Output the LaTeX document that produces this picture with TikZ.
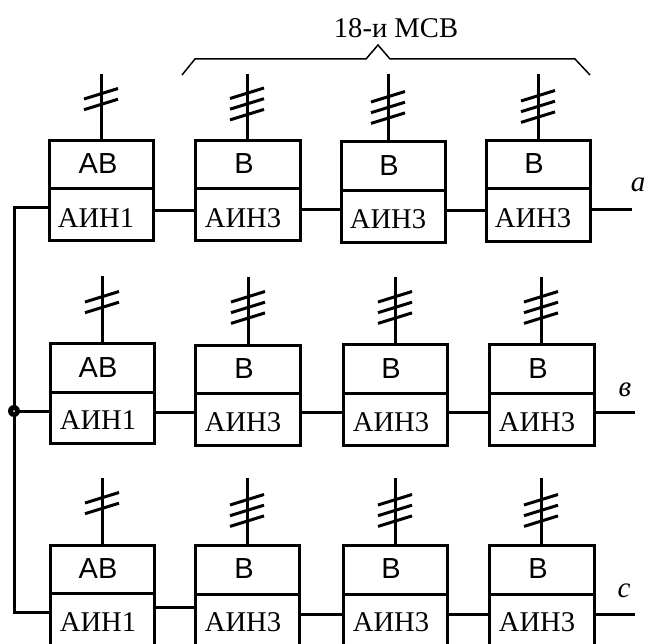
\documentclass[tikz,border=0pt]{standalone}
\usepackage{fontspec}
\setmainfont{Liberation Serif}
\newfontfamily\arialfam{Liberation Sans}
\tikzset{
  wire/.style={line width=3pt},
  thin wire/.style={line width=1.5pt},
  cell/.style={draw,line width=3pt,rectangle,inner sep=0pt,outer sep=0pt},
  sanslab/.style={anchor=base,inner sep=0pt,font=\arialfam\fontsize{29}{30}\selectfont},
  seriflab/.style={anchor=base,inner sep=0pt,font=\fontsize{28.6}{30}\selectfont},
  phaselab/.style={anchor=base,inner sep=0pt,font=\itshape\fontsize{29}{30}\selectfont},
}
\begin{document}
\begin{tikzpicture}[x=1pt,y=-1pt]
\useasboundingbox (0,0) rectangle (645,644);
\clip (0,0) rectangle (645,644);
% name / x0 / x1 / ytop / ydiv / ybot / stem x / stem top / ticks-1 / first tick y / sans x / serif x / base 1 / base 2 / top text / bottom text
\foreach \n/\xa/\xb/\yt/\yd/\yb/\sx/\st/\tn/\tl/\ta/\tb/\ba/\bb/\up/\lo in {
  a1/49/153/141/189/241/101/74/1/99/98/96/174/228/АВ/АИН1,
  a2/195/300/141/189/241/247/74/2/98.5/244/243/174/228/В/АИН3,
  a3/341/445/142/191/243/388/74/2/102/389/388/176/229/В/АИН3,
  a4/486/590/141/189/242/538/74/2/101/534/533/174/228/В/АИН3,
  b1/50/154/343/392/443/102/276/1/302/98/98/377/429/АВ/АИН1,
  b2/195/300/345/393/445/248/277/2/302/244/243/378/431/В/АИН3,
  b3/343/447/344/393/445/395/277/2/302/391/391/378/431/В/АИН3,
  b4/489/594/344/393/445/541/277/2/302/538/537/378/431/В/АИН3,
  c1/50/154/545/593/660/102/478/1/503/98/98/578/631/АВ/АИН1,
  c2/195/299/545/594/660/247/478/2/505/244/243/578/631/В/АИН3,
  c3/343/447/545/594/660/395/478/2/505/391/391/578/631/В/АИН3,
  c4/489/594/545/594/660/541/478/2/505/538/537/578/631/В/АИН3%
}{
  \node[cell,minimum width={(\xb-\xa)*1pt},minimum height={(\yd-\yt)*1pt}] (\n u) at ({(\xa+\xb)/2},{(\yt+\yd)/2}) {};
  \node[cell,minimum width={(\xb-\xa)*1pt},minimum height={(\yb-\yd)*1pt}] (\n l) at ({(\xa+\xb)/2},{(\yd+\yb)/2}) {};
  \node[sanslab] (\n ut) at (\ta,\ba) {\up};
  \node[seriflab] (\n lt) at (\tb,\bb) {\lo};
  \coordinate (\n s) at (\sx,\st);
  \draw[wire] (\n s) -- (\n s |- \n u.north);
  \foreach \k in {0,...,\tn}{
    \draw[wire] ({\sx-17},{\tl+10.7*\k}) -- ({\sx+17},{\tl+10.7*\k-10.5});
  }
}
% row wires
\draw[wire] (a1l.east |- 0,211) -- (a2l.west |- 0,211);
\draw[wire] (a2l.east |- 0,210) -- (a3l.west |- 0,210);
\draw[wire] (a3l.east |- 0,211) -- (a4l.west |- 0,211);
\coordinate (aout) at (632,210);
\draw[wire] (a4l.east |- aout) -- (aout);
\draw[wire] (b1l.east |- 0,412) -- (b2l.west |- 0,412);
\draw[wire] (b2l.east |- 0,412) -- (b3l.west |- 0,412);
\draw[wire] (b3l.east |- 0,412) -- (b4l.west |- 0,412);
\coordinate (bout) at (635,412);
\draw[wire] (b4l.east |- bout) -- (bout);
\draw[wire] (c1l.east |- 0,607) -- (c2l.west |- 0,607);
\draw[wire] (c2l.east |- 0,614) -- (c3l.west |- 0,614);
\draw[wire] (c3l.east |- 0,614) -- (c4l.west |- 0,614);
\coordinate (cout) at (635,614);
\draw[wire] (c4l.east |- cout) -- (cout);
% bus
\node[circle,fill=black,inner sep=0pt,outer sep=0pt,minimum size=12pt] (j) at (14,411) {};
\draw[wire] (a1l.west |- 0,208) -| (j.center);
\draw[wire] (c1l.west |- 0,612) -| (j.center);
\draw[wire] (j.center) -- (b1l.west |- j);
\fill[white] (j.center) circle (1pt);
% brace
\coordinate (br1) at (182,75);
\coordinate (br2) at (590,75);
\draw[thin wire] (br1) -- (195,59) -- (366,59) -- (378,45) -- (390,59) -- (575,59) -- (br2);
\node[seriflab] (title) at (396,38) {18-и МСВ};
% phase labels
\node[phaselab] (pa) at (638,192) {a};
\node[phaselab] (pb) at (625,396) {в};
\node[phaselab] (pc) at (624,597) {c};
\end{tikzpicture}
\end{document}
